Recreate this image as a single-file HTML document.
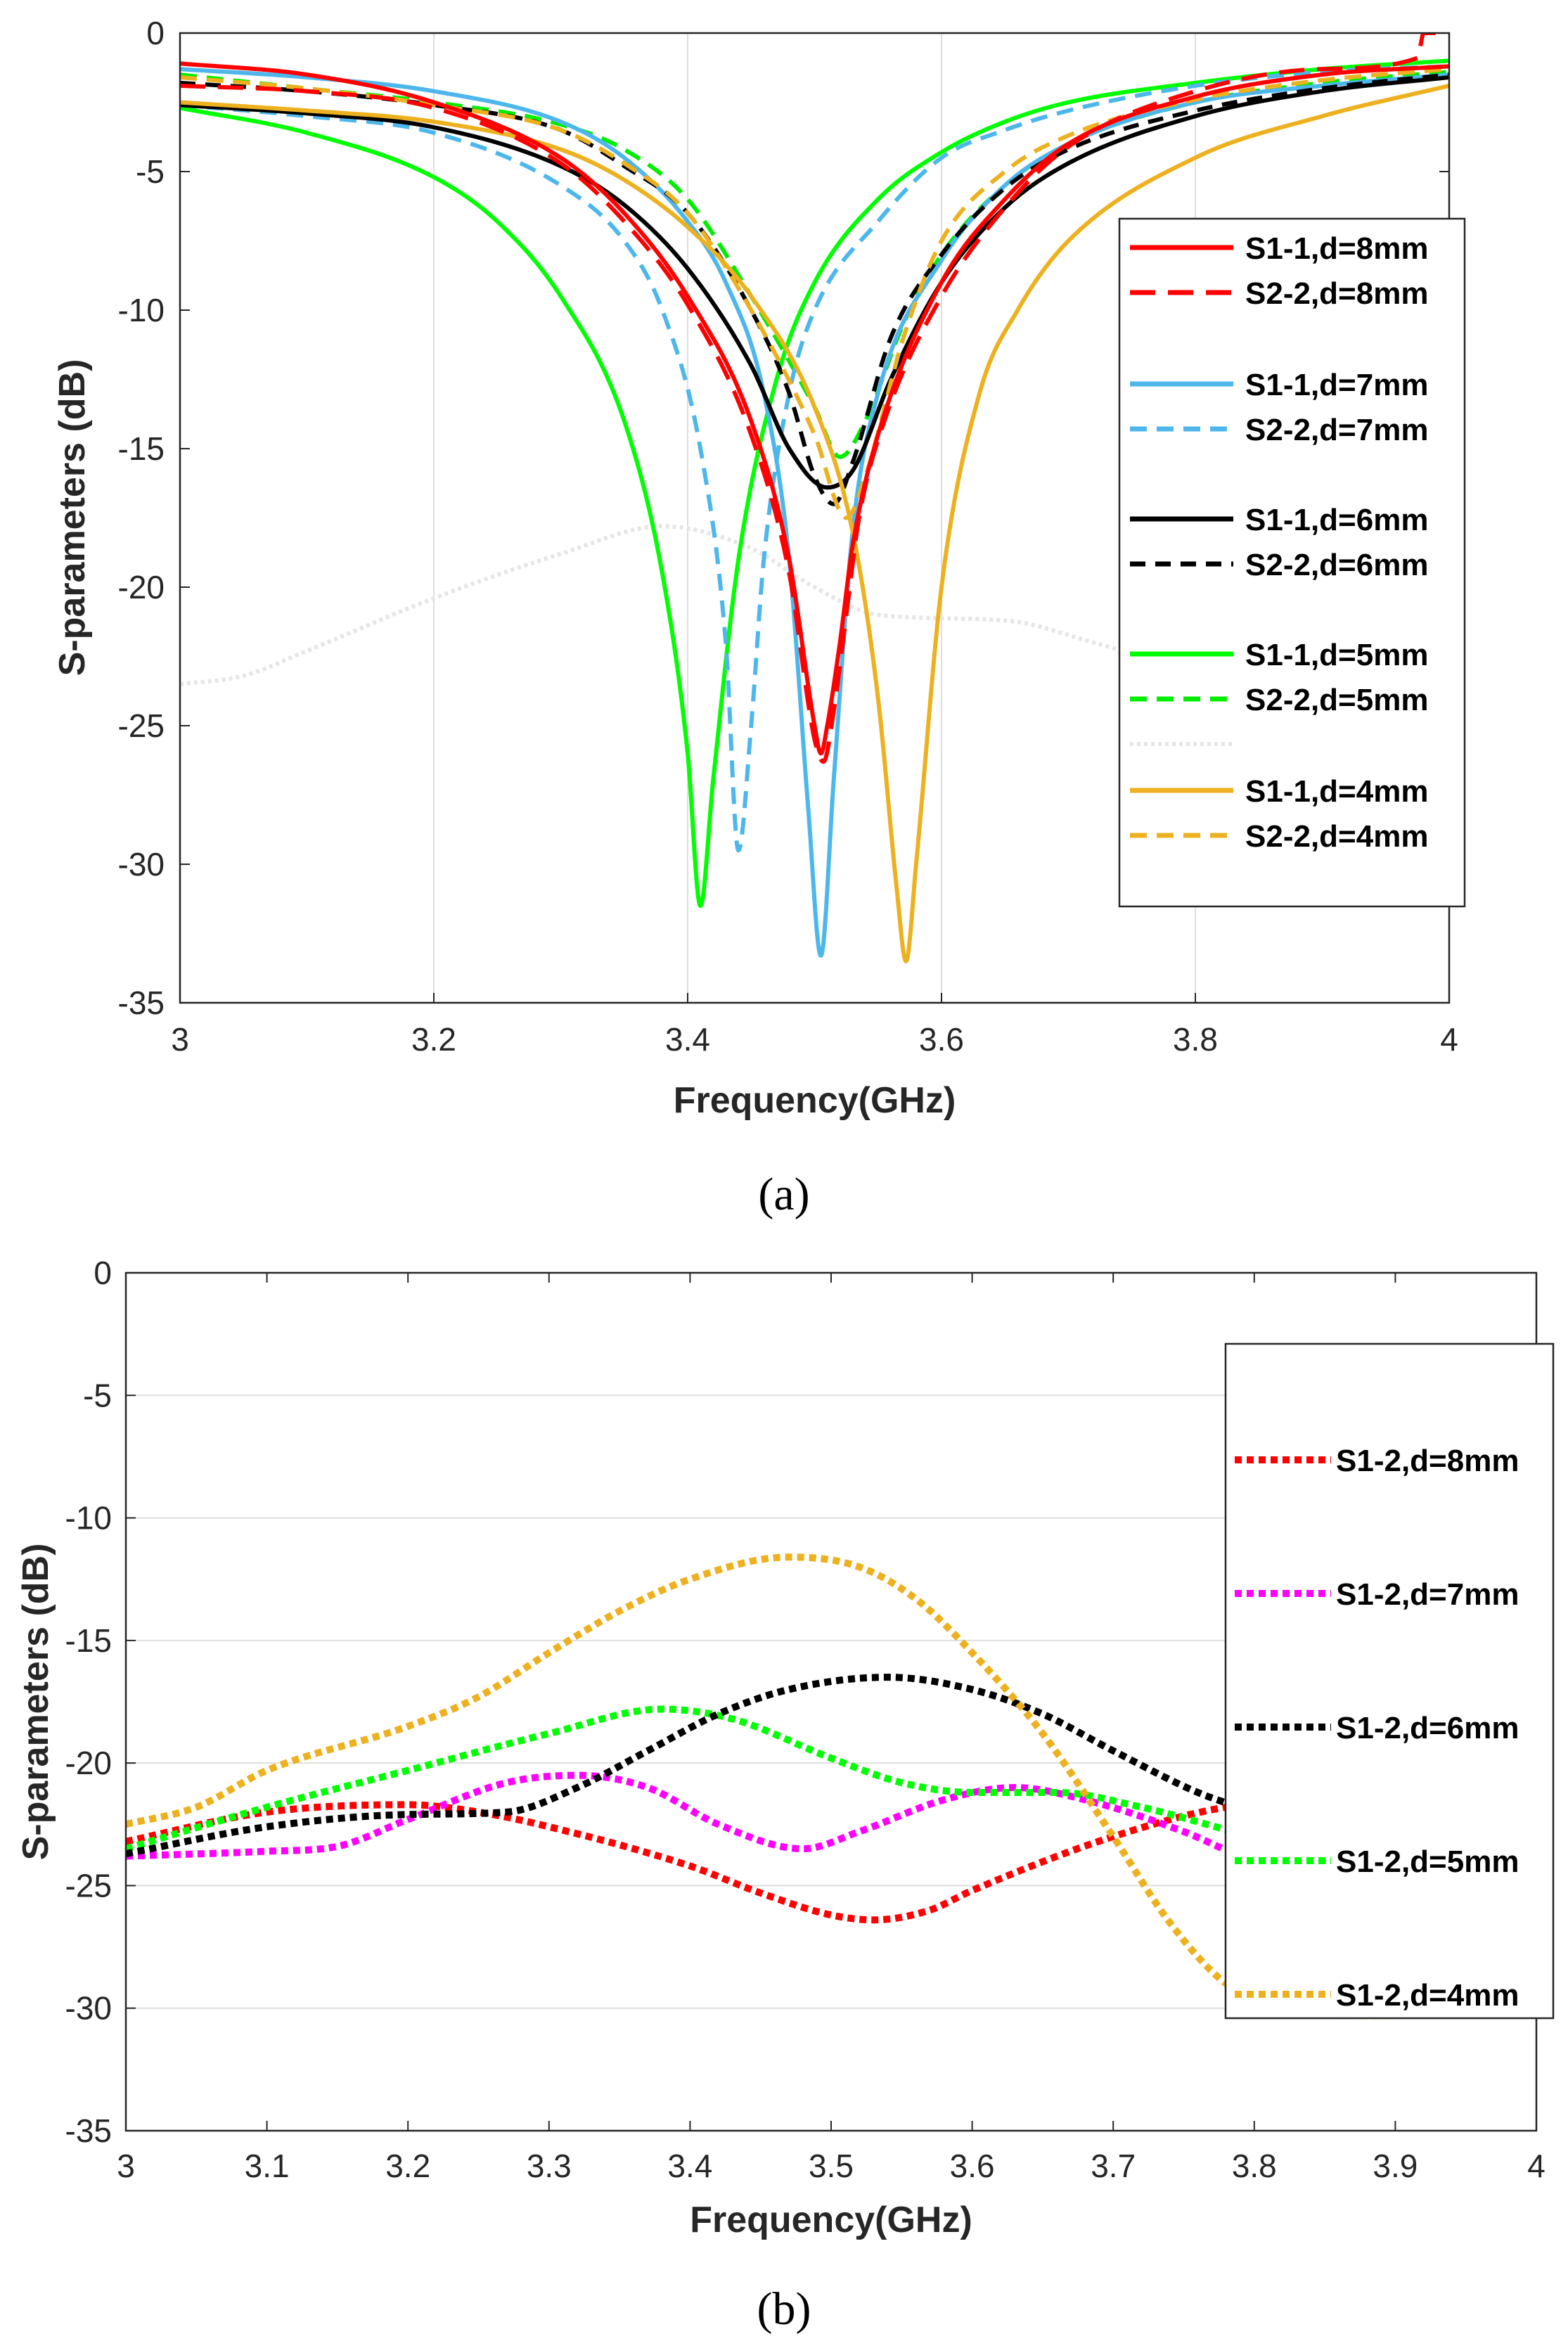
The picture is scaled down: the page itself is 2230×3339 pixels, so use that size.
<!DOCTYPE html>
<html><head><meta charset="utf-8"><style>
html,body{margin:0;padding:0;background:#fff;}
svg{display:block;font-family:"Liberation Sans",sans-serif;}
.tick{font-size:46px;fill:#262626;}
.ttl{font-size:52px;font-weight:bold;fill:#262626;}
.leg{font-size:44px;font-weight:bold;fill:#000;}
.cap{font-family:"Liberation Serif",serif;font-size:66px;fill:#000;}
</style></head><body>
<svg id="fig" width="2230" height="3339" viewBox="0 0 2230 3339" xmlns="http://www.w3.org/2000/svg">
<g id="chartA"></g>
<g id="chartB"></g>
</svg>
<script>
// ---------- Chart (a) data ----------
const aXTicks = [3, 3.2, 3.4, 3.6, 3.8, 4];
const aYTicks = [0, -5, -10, -15, -20, -25, -30, -35];
const s11d8F = [3.0,3.1,3.2,3.3,3.35,3.4,3.45,3.48,3.5,3.505,3.51,3.52,3.53,3.55,3.6,3.65,3.7,3.8,3.9,4.0];
const s11d8V = [-1.1,-1.5,-2.5,-4.5,-6.5,-9.5,-14,-19,-25,-26,-25,-22,-18.5,-14.5,-9,-6,-4,-2.3,-1.5,-1.2];
const s22d8F = [3.0,3.1,3.2,3.3,3.35,3.4,3.45,3.48,3.5,3.507,3.515,3.525,3.535,3.555,3.6,3.65,3.7,3.8,3.9,3.975,3.98,4.0];
const s22d8V = [-1.9,-2.1,-2.7,-4.7,-6.8,-9.8,-14.5,-19.5,-25.5,-26.3,-24.5,-21,-17.5,-14,-9.5,-6.3,-4.1,-2.1,-1.3,-0.9,0,0];
const s11d7F = [3.0,3.1,3.2,3.3,3.35,3.4,3.43,3.46,3.48,3.495,3.505,3.515,3.53,3.55,3.6,3.65,3.7,3.8,3.9,4.0];
const s11d7V = [-1.3,-1.6,-2.1,-3.2,-4.5,-6.8,-9,-13,-19,-28,-33.3,-27,-18,-13,-8.2,-5.5,-4,-2.5,-1.9,-1.5];
const s22d7F = [3.0,3.1,3.2,3.3,3.35,3.38,3.41,3.43,3.44,3.45,3.46,3.48,3.5,3.55,3.6,3.65,3.7,3.8,3.9,4.0];
const s22d7V = [-2.6,-3,-3.6,-5.5,-7.5,-10,-15,-22,-29.5,-25,-19,-13,-10,-6.8,-4.5,-3.5,-2.8,-1.9,-1.4,-1.2];
const s11d6F = [3.0,3.1,3.2,3.3,3.35,3.4,3.45,3.48,3.51,3.53,3.56,3.6,3.65,3.7,3.8,3.9,4.0];
const s11d6V = [-2.6,-2.9,-3.4,-4.8,-6.2,-8.5,-12,-15,-16.4,-15.8,-12.5,-9,-6.3,-4.7,-3,-2.1,-1.6];
const s22d6F = [3.0,3.1,3.2,3.3,3.35,3.4,3.45,3.48,3.5,3.515,3.53,3.56,3.6,3.65,3.7,3.8,3.9,4.0];
const s22d6V = [-1.8,-2.1,-2.6,-3.5,-4.8,-6.5,-10,-13,-16,-17,-15.5,-11,-8,-5.6,-4.2,-2.8,-2,-1.5];
const s11d5F = [3.0,3.1,3.2,3.25,3.3,3.35,3.38,3.4,3.41,3.42,3.44,3.47,3.5,3.55,3.6,3.65,3.7,3.8,3.9,4.0];
const s11d5V = [-2.7,-3.6,-5.2,-6.8,-9.5,-14,-19.5,-26,-31.5,-27,-19,-12.5,-9,-6,-4.3,-3.2,-2.5,-1.8,-1.3,-1.0];
const s22d5F = [3.0,3.1,3.2,3.3,3.35,3.4,3.45,3.5,3.52,3.54,3.57,3.6,3.65,3.7,3.8,3.9,4.0];
const s22d5V = [-1.5,-2,-2.5,-3.3,-4.2,-6,-9.5,-13.5,-15.3,-14,-10.5,-8,-5.5,-4,-2.5,-1.8,-1.4];
const s11d4F = [3.0,3.1,3.2,3.3,3.35,3.4,3.45,3.5,3.53,3.55,3.565,3.572,3.58,3.6,3.63,3.66,3.7,3.8,3.9,4.0];
const s11d4V = [-2.5,-2.8,-3.2,-4.2,-5.3,-7,-9.5,-13.5,-18,-24,-31,-33.5,-30,-20,-13,-10,-7.5,-4.5,-3,-1.9];
const s22d4F = [3.0,3.1,3.2,3.3,3.35,3.4,3.45,3.5,3.525,3.54,3.57,3.6,3.65,3.7,3.8,3.9,4.0];
const s22d4V = [-1.6,-2,-2.6,-3.5,-4.7,-6.5,-10,-14.5,-17.5,-16,-11,-7.5,-5,-3.7,-2.4,-1.7,-1.3];
const ghostF = [3.0,3.05,3.1,3.2,3.3,3.38,3.45,3.5,3.55,3.65,3.72,3.78,3.83];
const ghostV = [-23.5,-23.2,-22.3,-20.4,-18.8,-17.8,-18.6,-20,-21,-21.2,-22,-22.8,-23.5];
const aLabels = ["S1-1,d=8mm","S2-2,d=8mm","S1-1,d=7mm","S2-2,d=7mm","S1-1,d=6mm","S2-2,d=6mm","S1-1,d=5mm","S2-2,d=5mm","S1-1,d=4mm","S2-2,d=4mm"];

// ---------- Chart (b) data ----------
const bXTicks = [3,3.1,3.2,3.3,3.4,3.5,3.6,3.7,3.8,3.9,4];
const bYTicks = [0,-5,-10,-15,-20,-25,-30,-35];
const s12d8F = [3.0,3.1,3.2,3.25,3.3,3.4,3.45,3.5,3.53,3.57,3.6,3.7,3.78,3.85];
const s12d8V = [-23.2,-22,-21.7,-22,-22.6,-24.2,-25.3,-26.2,-26.4,-26,-25.2,-23,-21.8,-21.5];
const s12d7F = [3.0,3.1,3.15,3.2,3.27,3.32,3.37,3.42,3.48,3.52,3.58,3.63,3.68,3.75,3.8,3.85];
const s12d7V = [-23.8,-23.6,-23.4,-22.3,-20.8,-20.5,-21,-22.5,-23.5,-22.8,-21.5,-21,-21.5,-22.8,-24,-24.5];
const s12d6F = [3.0,3.1,3.2,3.27,3.32,3.37,3.42,3.47,3.54,3.6,3.65,3.7,3.76,3.8,3.85];
const s12d6V = [-23.7,-22.6,-22.1,-22,-21,-19.5,-18,-17,-16.5,-17,-18,-19.5,-21.2,-22,-23];
const s12d5F = [3.0,3.1,3.2,3.3,3.38,3.43,3.5,3.55,3.6,3.66,3.72,3.8,3.85];
const s12d5V = [-23.5,-21.8,-20.3,-18.8,-17.8,-18.2,-19.8,-20.8,-21.2,-21.2,-21.8,-23,-23.5];
const s12d4F = [3.0,3.05,3.1,3.2,3.25,3.3,3.35,3.4,3.47,3.52,3.56,3.6,3.65,3.7,3.74,3.78,3.82,3.87,3.9];
const s12d4V = [-22.5,-21.8,-20.3,-18.5,-17.3,-15.5,-13.8,-12.5,-11.6,-12,-13.3,-15.5,-18.8,-23,-26.5,-29,-30,-30.3,-30.3];
const bLabels = ["S1-2,d=8mm","S1-2,d=7mm","S1-2,d=6mm","S1-2,d=5mm","S1-2,d=4mm"];

const NS = "http://www.w3.org/2000/svg";
function mk(tag, attrs, parent){ const e=document.createElementNS(NS,tag); for(const k in attrs) e.setAttribute(k,attrs[k]); parent.appendChild(e); return e; }

function pathD(px,py){
  const n=px.length; if(n<2) return "";
  const d=[],m=new Array(n);
  for(let i=0;i<n-1;i++) d.push((py[i+1]-py[i])/(px[i+1]-px[i]));
  m[0]=d[0]; m[n-1]=d[n-2];
  for(let i=1;i<n-1;i++){ m[i]=(d[i-1]*d[i]<=0)?0:(d[i-1]+d[i])/2; }
  for(let i=0;i<n-1;i++){ if(d[i]===0){m[i]=0;m[i+1]=0;continue;}
    const a=m[i]/d[i],b=m[i+1]/d[i],s=a*a+b*b; if(s>9){const t=3/Math.sqrt(s);m[i]=t*a*d[i];m[i+1]=t*b*d[i];} }
  let s="M"+px[0].toFixed(1)+","+py[0].toFixed(1);
  for(let i=0;i<n-1;i++){ const h=(px[i+1]-px[i])/3;
    s+=" C"+(px[i]+h).toFixed(1)+","+(py[i]+m[i]*h).toFixed(1)+" "+(px[i+1]-h).toFixed(1)+","+(py[i+1]-m[i+1]*h).toFixed(1)+" "+px[i+1].toFixed(1)+","+py[i+1].toFixed(1); }
  return s;
}

// ================= Chart A =================
(function(){
  const g=document.getElementById('chartA');
  const L=256,R=2061,T=47,B=1426;
  const xs=f=>L+(f-3)*(R-L);
  const ys=v=>T+(0-v)/35*(B-T);
  const clip=mk('clipPath',{id:'clipA'},g); mk('rect',{x:L,y:T,width:R-L,height:B-T},clip);
  aXTicks.slice(1,-1).forEach(t=>{ const l=mk('line',{x1:xs(t),x2:xs(t),y1:T,y2:B,stroke:'#dedede','stroke-width':2},g);
      });
  const series=[
    [s11d5F,s11d5V,'#00ff00',''],[s22d5F,s22d5V,'#00ee00','24,14'],
    [s22d7F,s22d7V,'#4db7ec','24,14'],[s11d7F,s11d7V,'#4db7ec',''],
    [s11d6F,s11d6V,'#000',''],[s22d6F,s22d6V,'#000','22,14'],
    [s11d4F,s11d4V,'#edb120',''],[s22d4F,s22d4V,'#edb120','24,14'],
    [s11d8F,s11d8V,'#ff0000',''],[s22d8F,s22d8V,'#ff0000','36,18']
  ];
  const gp=mk('g',{'clip-path':'url(#clipA)'},g);
  const gh=mk('path',{d:pathD(ghostF.map(xs),ghostV.map(ys)),fill:'none',stroke:'#e6e6e6','stroke-width':6,'stroke-dasharray':'5,5'},gp);
   
  series.forEach(s=>{ const p=mk('path',{d:pathD(s[0].map(xs),s[1].map(ys)),fill:'none',stroke:s[2],'stroke-width':6,'stroke-linejoin':'round'},gp);
    if(s[3]) p.setAttribute('stroke-dasharray',s[3]);
      });
  const box=mk('rect',{x:L,y:T,width:R-L,height:B-T,fill:'none',stroke:'#262626','stroke-width':2.5},g);
   
  aXTicks.forEach(t=>{ mk('line',{x1:xs(t),x2:xs(t),y1:B,y2:B-14,stroke:'#262626','stroke-width':2},g);
    const tx=mk('text',{x:xs(t),y:B+68,'text-anchor':'middle',class:'tick'},g); tx.textContent=t;
      });
  aYTicks.forEach(t=>{ mk('line',{x1:L,x2:L+14,y1:ys(t),y2:ys(t),stroke:'#262626','stroke-width':2},g);
    mk('line',{x1:R,x2:R-14,y1:ys(t),y2:ys(t),stroke:'#262626','stroke-width':2},g);
    const tx=mk('text',{x:L-22,y:ys(t)+16,'text-anchor':'end',class:'tick'},g); tx.textContent=t;
      });
  const xt=mk('text',{x:(L+R)/2,y:1582,'text-anchor':'middle',class:'ttl'},g); xt.textContent='Frequency(GHz)';
   
  const yt=mk('text',{x:0,y:0,'text-anchor':'middle',class:'ttl',transform:'translate(120,736) rotate(-90)'},g); yt.textContent='S-parameters (dB)';
   
  const cap=mk('text',{x:1115,y:1720,'text-anchor':'middle',class:'cap'},g); cap.textContent='(a)';
   
  const lg=mk('g',{},g);  
  mk('rect',{x:1592,y:311,width:491,height:978,fill:'#fff',stroke:'#262626','stroke-width':2.5},lg);
  const ly=[352,416,546,610,738,802,930,994,1124,1188];
  const lc=['#ff0000','#ff0000','#4db7ec','#4db7ec','#000','#000','#00ff00','#00ee00','#edb120','#edb120'];
  const ld=['','36,18','','24,14','','22,14','','24,14','','24,14'];
  aLabels.forEach((lab,i)=>{ const e=mk('g',{},lg);
     
    const l=mk('line',{x1:1607,x2:1754,y1:ly[i],y2:ly[i],stroke:lc[i],'stroke-width':7},e);
    if(ld[i]) l.setAttribute('stroke-dasharray',ld[i]);
    const t=mk('text',{x:1771,y:ly[i]+16,class:'leg'},e); t.textContent=lab; });
  mk('line',{x1:1607,x2:1754,y1:1058,y2:1058,stroke:'#e6e6e6','stroke-width':6,'stroke-dasharray':'5,5'},lg);
})();

// ================= Chart B =================
(function(){
  const g=document.getElementById('chartB');
  const L=179,R=2185,T=1810,B=3030;
  const xs=f=>L+(f-3)*(R-L);
  const ys=v=>T+(0-v)/35*(B-T);
  bYTicks.slice(1,-1).forEach(t=>{ const l=mk('line',{x1:L,x2:R,y1:ys(t),y2:ys(t),stroke:'#dedede','stroke-width':2},g);
      });
  const clip=mk('clipPath',{id:'clipB'},g); mk('rect',{x:L,y:T,width:R-L,height:B-T},clip);
  const gp=mk('g',{'clip-path':'url(#clipB)'},g);
  const series=[[s12d8F,s12d8V,'#ff0000'],[s12d7F,s12d7V,'#ff00ff'],[s12d5F,s12d5V,'#00ff00'],[s12d6F,s12d6V,'#000'],[s12d4F,s12d4V,'#edb120']];
  series.forEach(s=>{ const p=mk('path',{d:pathD(s[0].map(xs),s[1].map(ys)),fill:'none',stroke:s[2],'stroke-width':10,'stroke-dasharray':'10,7'},gp);
      });
  const box=mk('rect',{x:L,y:T,width:R-L,height:B-T,fill:'none',stroke:'#262626','stroke-width':2.5},g);
   
  bXTicks.forEach(t=>{ mk('line',{x1:xs(t),x2:xs(t),y1:B,y2:B-14,stroke:'#262626','stroke-width':2},g);
    mk('line',{x1:xs(t),x2:xs(t),y1:T,y2:T+14,stroke:'#262626','stroke-width':2},g);
    const tx=mk('text',{x:xs(t),y:B+66,'text-anchor':'middle',class:'tick'},g); tx.textContent=t;
      });
  bYTicks.forEach(t=>{ mk('line',{x1:L,x2:L+14,y1:ys(t),y2:ys(t),stroke:'#262626','stroke-width':2},g);
    const tx=mk('text',{x:L-20,y:ys(t)+16,'text-anchor':'end',class:'tick'},g); tx.textContent=t;
      });
  const xt=mk('text',{x:(L+R)/2,y:3174,'text-anchor':'middle',class:'ttl'},g); xt.textContent='Frequency(GHz)';
   
  const yt=mk('text',{x:0,y:0,'text-anchor':'middle',class:'ttl',transform:'translate(68,2420) rotate(-90)'},g); yt.textContent='S-parameters (dB)';
   
  const cap=mk('text',{x:1115,y:3305,'text-anchor':'middle',class:'cap'},g); cap.textContent='(b)';
   
  const lg=mk('g',{},g);  
  mk('rect',{x:1743,y:1911,width:466,height:959,fill:'#fff',stroke:'#262626','stroke-width':2.5},lg);
  const ly=[2076,2266,2456,2646,2836];
  const lc=['#ff0000','#ff00ff','#000','#00ff00','#edb120'];
  bLabels.forEach((lab,i)=>{ const e=mk('g',{},lg);
     
    mk('line',{x1:1756,x2:1893,y1:ly[i],y2:ly[i],stroke:lc[i],'stroke-width':10,'stroke-dasharray':'10,7'},e);
    const t=mk('text',{x:1900,y:ly[i]+16,class:'leg'},e); t.textContent=lab; });
})();
</script>
</body></html>
